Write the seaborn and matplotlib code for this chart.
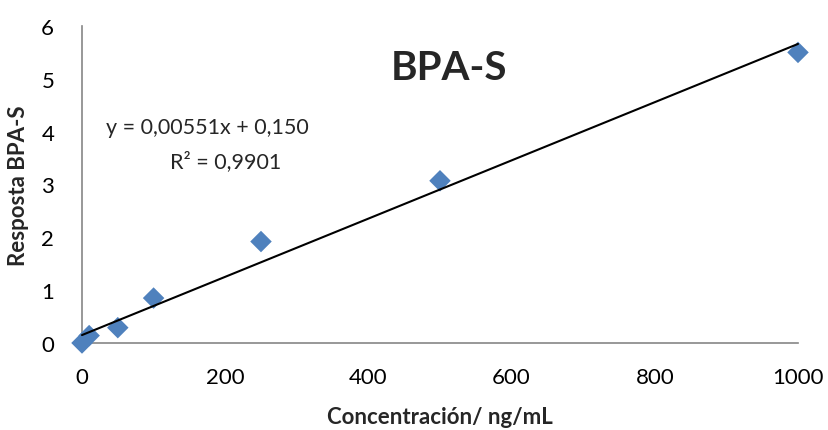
import numpy as np
import pandas as pd
import matplotlib
matplotlib.use("Agg")
import matplotlib.pyplot as plt
import seaborn as sns

# Calibration data
concentracion = [0, 10, 50, 100, 250, 500, 1000]
respuesta = [0.0, 0.14, 0.29, 0.85, 1.92, 3.07, 5.50]

# Linear trendline
pendiente = 0.00551
intercepto = 0.150
r2 = 0.9901

x_ticks = [0, 200, 400, 600, 800, 1000]
y_ticks = [0, 1, 2, 3, 4, 5, 6]

sns.set_theme(style="white")
plt.rcParams["font.family"] = ["Lato", "DejaVu Sans"]

fig = plt.figure(figsize=(8.29, 4.31), dpi=100)
ax = fig.add_axes([0.0989, 0.2019, 0.8637, 0.7355])

df = pd.DataFrame({"x": concentracion, "y": respuesta})
sns.scatterplot(data=df, x="x", y="y", marker="D", s=120, color="#4F81BD",
                edgecolor="none", ax=ax, clip_on=False, zorder=3)

xl = np.array([0, 1000])
ax.plot(xl, pendiente * xl + intercepto, color="black", lw=1.5, zorder=4,
        clip_on=False)

ax.set_xlim(0, 1000)
ax.set_ylim(0, 6)
ax.set_xticks(x_ticks)
ax.set_yticks(y_ticks)
ax.tick_params(axis="both", labelsize=16, length=0, colors="black")
ax.tick_params(axis="y", pad=20)
ax.tick_params(axis="x", pad=17)

for side in ["top", "right"]:
    ax.spines[side].set_visible(False)
for side in ["left", "bottom"]:
    ax.spines[side].set_color("#868686")
    ax.spines[side].set_linewidth(1.2)

ax.set_xlabel("Concentración/ ng/mL", fontsize=16, fontweight="bold", labelpad=14)
ax.set_ylabel("Resposta BPA-S", fontsize=16, fontweight="bold", labelpad=9)

ax.text(0.513, 0.87, "BPA-S", transform=ax.transAxes, fontsize=29,
        fontweight="bold", ha="center", va="center")

eq = f"y = {pendiente:.5f}x + {intercepto:.3f}".replace(".", ",")
ax.text(0.175, 0.68, eq, transform=ax.transAxes, fontsize=15.5,
        ha="center", va="center")
ax.text(0.2, 0.574, f"R² = {r2:.4f}".replace(".", ","), transform=ax.transAxes,
        fontsize=15.5, ha="center", va="center")

fig.savefig("out.png", dpi=100)
